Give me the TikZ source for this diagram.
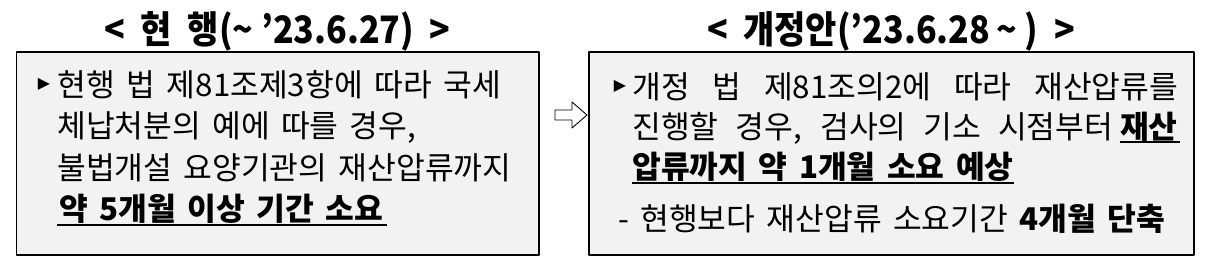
\documentclass[tikz,border=0pt]{standalone}
\usepackage{fontspec}
\setmainfont{Noto Sans CJK KR}[WordSpace=1.6]
\newfontfamily\headfont{Noto Sans CJK KR}[FakeStretch=0.9]
\newfontfamily\symfont{DejaVu Sans}
\definecolor{boxgray}{HTML}{F2F2F2}
\tikzset{
  body/.style={anchor=base west, inner sep=0pt, font=\fontsize{17.8}{20}\selectfont},
  bold/.style={body, font=\fontsize{17.8}{20}\selectfont\bfseries},
  heading/.style={anchor=base, inner sep=0pt, font=\headfont\fontsize{21.5}{24}\selectfont\bfseries},
  bulletmark/.style={inner sep=0pt, font=\symfont\fontsize{9}{10}\selectfont},
  panel/.style={draw, fill=boxgray, line width=0.6pt},
  uline/.style={line width=0.6pt}
}
\begin{document}
\begin{tikzpicture}[x=0.02cm, y=-0.02cm, line join=round]
  \useasboundingbox (0,0) rectangle (1206,270);
  % panels
  \draw[panel] (16.5,52) rectangle (539,255);
  \draw[panel] (589,52) rectangle (1194,255);
  % headings
  \node[heading] (hold) at (277.5,44) {<\ \ 현\ \ 행(\textasciitilde\ ’23.6.27)\ \ >};
  \node[heading] (hnew) at (891,44) {<\ \ 개정안(’23.6.28\,\textasciitilde\ )\ \ >};
  % hollow arrow between panels
  \draw[fill=white, line width=0.5pt]
    (555,110) -- (572,110) -- (572,102) -- (587,115) -- (572,128) -- (572,120) -- (555,120) -- cycle;
  % current law
  \node[bulletmark] (lb) at (44,84) {▶};
  \node[body] (l1) at (57,96) {\makebox[8.88cm][s]{현행 법 제81조제3항에 따라 국세}};
  \node[body] (l2) at (57,137) {체납처분의 예에 따를 경우,};
  \node[body] (l3) at (57,179) {불법개설 요양기관의 재산압류까지};
  \node[bold] (l4) at (59,220) {약 5개월 이상 기간 소요};
  \draw[uline] ([xshift=-0.04cm,yshift=-0.1cm]l4.base west) -- ([xshift=0.06cm,yshift=-0.1cm]l4.base east);
  % amendment
  \node[bulletmark] (rb) at (620,86) {▶};
  \node[body] (r1) at (632,98) {\makebox[10.92cm][s]{개정 법 제81조의2에 따라 재산압류를}};
  \node[body] (r2) at (632,138) {\makebox[9.62cm][s]{진행할 경우, 검사의 기소 시점부터}};
  \node[bold, anchor=base east] (r2b) at (1178,138) {재산};
  \draw[uline] ([yshift=-0.08cm]r2b.base west) -- ([xshift=0.04cm,yshift=-0.08cm]r2b.base east);
  \node[bold] (r3) at (632,178) {압류까지 약 1개월 소요 예상};
  \draw[uline] ([yshift=-0.1cm]r3.base west) -- ([yshift=-0.1cm]r3.base east);
  \node[body] (r4) at (618,230) {-\ 현행보다 재산압류 소요기간 \textbf{4개월 단축}};
\end{tikzpicture}
\end{document}
